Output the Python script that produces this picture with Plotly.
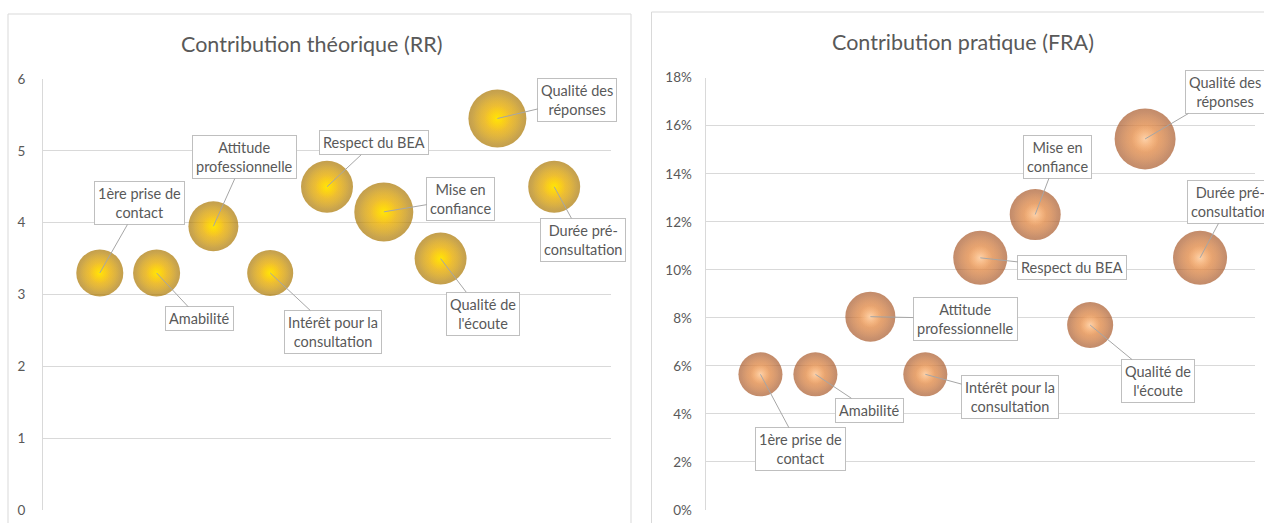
import plotly.graph_objects as go

W, H = 1264, 523

# ---------------- data ----------------
criteres = ["1ère prise de<br>contact", "Amabilité", "Attitude<br>professionnelle",
            "Intérêt pour la<br>consultation", "Respect du BEA", "Mise en<br>confiance",
            "Qualité de<br>l'écoute", "Qualité des<br>réponses", "Durée pré-<br>consultation"]
rang = [1, 2, 3, 4, 5, 6, 7, 8, 9]

rr_values = [3.3, 3.3, 3.95, 3.3, 4.5, 4.15, 3.5, 5.45, 4.5]
rr_sizes = [22.1, 22.1, 25.0, 21.2, 27.0, 34.8, 27.0, 33.6, 27.0]

fra_values = [0.0565, 0.0565, 0.0805, 0.0565, 0.105, 0.123, 0.077, 0.1545, 0.105]
fra_sizes = [19.4, 19.4, 25.0, 19.4, 29.2, 26.0, 21.2, 37.2, 29.2]

rr_ticks = [0, 1, 2, 3, 4, 5, 6]
fra_ticks = [0, 0.02, 0.04, 0.06, 0.08, 0.10, 0.12, 0.14, 0.16, 0.18]

rr_offsets = [(40, -70), (43, 46), (31, -69), (63, 59), (47, -44), (77, -13), (42, 55), (80, -19), (29, 53)]
fra_offsets = [(40, 75), (54, 36), (95, 2), (85, 23), (92, 10), (22, -58), (68, 56), (80, -47), (30, -56)]

FONT = "Lato, Calibri, Carlito, sans-serif"
TXT = "#595959"
GRID = "#D9D9D9"

fig = go.Figure()

def add_bubbles(xa, ya, yvals, sizes, layers):
    sref = 0.02
    for factor, edge, center in layers:
        fig.add_trace(go.Scatter(
            x=rang, y=yvals, mode="markers", xaxis=xa, yaxis=ya, hoverinfo="skip",
            marker=dict(size=sizes, sizemode="area", sizeref=sref / factor ** 2, color=edge,
                        gradient=dict(type="radial", color=center), line=dict(width=0))))

add_bubbles("x", "y", rr_values, rr_sizes, [
    (1.0, "#A97500", "#FFC000"),
    (0.86, "rgba(252,190,0,0)", "#FFC400"),
    (0.45, "rgba(255,220,0,0)", "#FFF200"),
])
add_bubbles("x2", "y2", fra_values, fra_sizes, [
    (1.0, "#A8592A", "#F49A50"),
    (0.86, "rgba(244,160,92,0)", "#F6A462"),
    (0.45, "rgba(252,200,150,0)", "#FFE3C6"),
])

axis_common = dict(showgrid=False, zeroline=False, showticklabels=False, ticks="",
                   fixedrange=True, automargin=False)
fig.update_layout(
    width=W, height=H, margin=dict(l=0, r=0, t=0, b=0, pad=0, autoexpand=False), autosize=False,
    paper_bgcolor="white", plot_bgcolor="white", showlegend=False,
    font=dict(family=FONT, color=TXT),
    xaxis=dict(domain=[43 / W, 611 / W], range=[0, 10], anchor="y", **axis_common),
    xaxis2=dict(domain=[705.5 / W, 1255 / W], range=[0, 10], anchor="y2", **axis_common),
    yaxis=dict(domain=[(H - 510) / H, (H - 79) / H], range=[0, 6], anchor="x",
               tickvals=rr_ticks, showgrid=True, gridcolor=GRID, gridwidth=1, automargin=False,
               showline=True, linecolor=GRID, zeroline=False, ticks="",
               ticklabelstandoff=14, tickfont=dict(size=13.5, color=TXT, family=FONT), fixedrange=True),
    yaxis2=dict(domain=[(H - 510) / H, (H - 77.7) / H], range=[0, 0.18], anchor="x2",
                tickvals=fra_ticks, tickformat=".0%", showgrid=True, gridcolor=GRID, gridwidth=1,
                automargin=False, showline=True, linecolor=GRID, zeroline=False, ticks="",
                ticklabelstandoff=10, tickfont=dict(size=13.5, color=TXT, family=FONT), fixedrange=True),
)

fig.add_shape(type="rect", xref="paper", yref="paper", x0=8 / W, x1=631 / W, y0=-0.1, y1=1 - 14 / H,
              line=dict(color=GRID, width=1), layer="below")
fig.add_shape(type="rect", xref="paper", yref="paper", x0=651.5 / W, x1=1.1, y0=-0.1, y1=1 - 12 / H,
              line=dict(color=GRID, width=1), layer="below")

fig.add_annotation(text="Contribution théorique (RR)", xref="paper", yref="paper",
                   x=311 / W, y=1 - 44 / H, showarrow=False, xanchor="center", yanchor="middle",
                   font=dict(size=21.5, color=TXT, family=FONT))
fig.add_annotation(text="Contribution pratique (FRA)", xref="paper", yref="paper",
                   x=963 / W, y=1 - 42 / H, showarrow=False, xanchor="center", yanchor="middle",
                   font=dict(size=21.5, color=TXT, family=FONT))

def add_callouts(xr, yr, yvals, offsets):
    for lab, xv, yv, (dx, dy) in zip(criteres, rang, yvals, offsets):
        fig.add_annotation(text=lab, x=xv, y=yv, xref=xr, yref=yr, ax=dx, ay=dy,
                           showarrow=True, arrowhead=0, arrowwidth=1, arrowcolor="#A6A6A6",
                           standoff=0, startstandoff=0, align="center",
                           bgcolor="white", bordercolor="#BFBFBF", borderwidth=1, borderpad=3,
                           font=dict(size=14.5, color=TXT, family=FONT))

add_callouts("x", "y", rr_values, rr_offsets)
add_callouts("x2", "y2", fra_values, fra_offsets)

post = ("document.documentElement.style.margin='0';document.body.style.margin='0';"
        "document.body.style.padding='0';document.body.style.overflow='hidden';"
        "document.documentElement.style.overflow='hidden';"
        "var gd=document.getElementById('{plot_id}');"
        "Plotly.relayout(gd,{width:%d,height:%d});" % (W, H))
fig.write_html("out.html", post_script=post, config={"responsive": False, "displayModeBar": False})
